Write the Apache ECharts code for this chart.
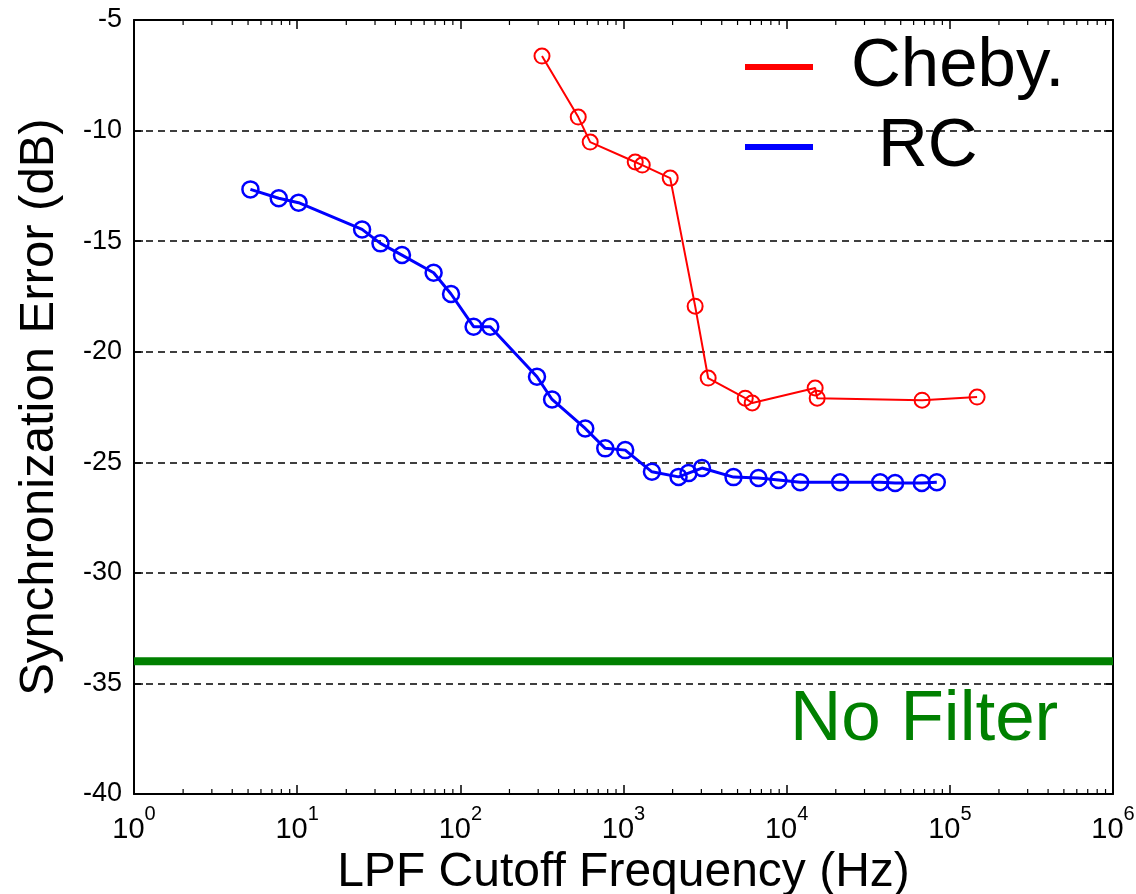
<!DOCTYPE html>
<html><head><meta charset="utf-8">
<script src="https://cdn.jsdelivr.net/npm/echarts@6/dist/echarts.min.js"></script>
<style>html,body{margin:0;padding:0;background:#fff}#c{width:1136px;height:894px}</style>
</head><body><div id="c"></div>
<script>
// ---- data ----
const rcFreq = [5.17, 7.71, 10.2, 25.0, 32.4, 43.9, 68.6, 87.7, 120.6, 152.6, 295, 365, 583, 773, 1025, 1494, 2175, 2502, 3027, 4723, 6716, 8907, 12100, 21270, 37410, 46200, 67300, 83200];
const rcErr  = [-12.66, -13.06, -13.26, -14.47, -15.10, -15.63, -16.43, -17.39, -18.87, -18.87, -21.13, -22.16, -23.47, -24.37, -24.45, -25.43, -25.66, -25.49, -25.26, -25.67, -25.71, -25.80, -25.90, -25.90, -25.90, -25.94, -25.94, -25.90];
const chebyFreq = [316.6, 528, 625, 1180, 1303, 1933, 2748, 3303, 5575, 6150, 14950, 15380, 67600, 146900];
const chebyErr  = [-6.63, -9.39, -10.52, -11.42, -11.56, -12.15, -17.94, -21.19, -22.10, -22.32, -21.64, -22.10, -22.19, -22.05];
const noFilterFreq = [1, 1000000];
const noFilterErr  = [-34, -34];
const seriesNames = ['Cheby.', 'RC'];
const noFilterLabel = 'No Filter';
const xTitle = 'LPF Cutoff Frequency (Hz)';
const yTitle = 'Synchronization Error (dB)';

const FONT = '"Liberation Sans", Arial, sans-serif';
const zip = (xs, ys) => xs.map((x, i) => [x, ys[i]]);

// minor tick positions on the log axis (2..9 x 10^k)
const minorTicks = [];
for (let e = 0; e < 6; e++) for (let m = 2; m < 10; m++) minorTicks.push([m * Math.pow(10, e), -40]);

const chart = echarts.init(document.getElementById('c'), null, {renderer: 'canvas'});

const axisLineStyle = {color: '#000', width: 2};
const tickStyle = {color: '#000', width: 1.5};

const option = {
  animation: false,
  backgroundColor: '#fff',
  textStyle: {fontFamily: FONT},
  grid: {left: 134, right: 23, top: 20, bottom: 100, containLabel: false, outerBoundsMode: 'none'},
  legend: {
    orient: 'vertical', left: 745, top: 27, padding: 0,
    itemWidth: 68, itemHeight: 6, itemGap: 0,
    selectedMode: false,
    data: [
      {name: seriesNames[0], icon: 'rect', itemStyle: {color: '#ff0000', borderWidth: 0}},
      {name: seriesNames[1], icon: 'rect', itemStyle: {color: '#0000ff', borderWidth: 0}}
    ],
    formatter: n => n === seriesNames[1] ? '{rc|' + n + '}' : '{ch|' + n + '}',
    textStyle: {
      fontSize: 69, color: '#000', fontFamily: FONT, lineHeight: 80,
      rich: {
        ch: {fontSize: 69, lineHeight: 80, padding: [0, 0, 0, 33], fontFamily: FONT, color: '#000'},
        rc: {fontSize: 69, lineHeight: 80, padding: [0, 0, 0, 60], fontFamily: FONT, color: '#000'}
      }
    }
  },
  xAxis: [
    {
      type: 'log', logBase: 10, min: 1, max: 1000000, splitNumber: 6, position: 'bottom',
      name: xTitle, nameLocation: 'middle', nameGap: 48,
      nameTextStyle: {fontSize: 48, color: '#000', fontFamily: FONT},
      axisLine: {show: true, onZero: false, lineStyle: axisLineStyle},
      axisTick: {show: true, inside: true, length: 9, lineStyle: tickStyle},
      axisLabel: {
        margin: 10,
        formatter: v => '{b|10}{s|' + Math.round(Math.log10(v)) + '}',
        rich: {
          b: {fontSize: 29, lineHeight: 40, verticalAlign: 'bottom', color: '#000', fontFamily: FONT},
          s: {fontSize: 20, lineHeight: 20, verticalAlign: 'top', color: '#000', fontFamily: FONT}
        }
      },
      splitLine: {show: false}
    },
    {
      type: 'log', logBase: 10, min: 1, max: 1000000, splitNumber: 6, position: 'top',
      axisLine: {show: true, onZero: false, lineStyle: axisLineStyle},
      axisTick: {show: true, inside: true, length: 9, lineStyle: tickStyle},
      axisLabel: {show: false},
      splitLine: {show: false}
    }
  ],
  yAxis: [
    {
      type: 'value', min: -40, max: -5, interval: 5, position: 'left',
      name: yTitle, nameLocation: 'middle', nameGap: 70, nameRotate: 90,
      nameTextStyle: {fontSize: 49, color: '#000', fontFamily: FONT},
      axisLine: {show: true, onZero: false, lineStyle: axisLineStyle},
      axisTick: {show: true, inside: true, length: 9, lineStyle: tickStyle},
      axisLabel: {fontSize: 27, color: '#000', margin: 12, fontFamily: FONT},
      splitLine: {show: true, lineStyle: {color: '#000', width: 1.5, type: [7, 5]}}
    },
    {
      type: 'value', min: -40, max: -5, interval: 5, position: 'right',
      axisLine: {show: true, onZero: false, lineStyle: axisLineStyle},
      axisTick: {show: true, inside: true, length: 9, lineStyle: tickStyle},
      axisLabel: {show: false},
      splitLine: {show: false}
    }
  ],
  graphic: [
    {type: 'text', left: 790, top: 685, z: 10,
     style: {text: noFilterLabel, fill: '#008000', font: '71px ' + FONT}}
  ],
  series: [
    {
      name: noFilterLabel, type: 'line', data: zip(noFilterFreq, noFilterErr),
      symbol: 'none', silent: true, z: 1,
      lineStyle: {color: '#008000', width: 8}
    },
    {
      name: seriesNames[0], type: 'line', data: zip(chebyFreq, chebyErr), z: 3,
      symbol: 'circle', symbolSize: 15,
      itemStyle: {color: 'rgba(0,0,0,0)', borderColor: '#ff0000', borderWidth: 2},
      lineStyle: {color: '#ff0000', width: 2}
    },
    {
      name: seriesNames[1], type: 'line', data: zip(rcFreq, rcErr), z: 3,
      symbol: 'circle', symbolSize: 16,
      itemStyle: {color: 'rgba(0,0,0,0)', borderColor: '#0000ff', borderWidth: 2.5},
      lineStyle: {color: '#0000ff', width: 3}
    },
    {
      type: 'custom', silent: true, clip: false, z: 5,
      data: minorTicks, encode: {x: 0, y: 1},
      renderItem: (params, api) => {
        const b = api.coord([api.value(0), -40]);
        const t = api.coord([api.value(0), -5]);
        const st = {stroke: '#000', lineWidth: 1.2};
        return {type: 'group', children: [
          {type: 'line', shape: {x1: b[0], y1: b[1], x2: b[0], y2: b[1] - 5}, style: st},
          {type: 'line', shape: {x1: t[0], y1: t[1], x2: t[0], y2: t[1] + 5}, style: st}
        ]};
      }
    }
  ]
};
chart.setOption(option);
</script>
</body></html>
